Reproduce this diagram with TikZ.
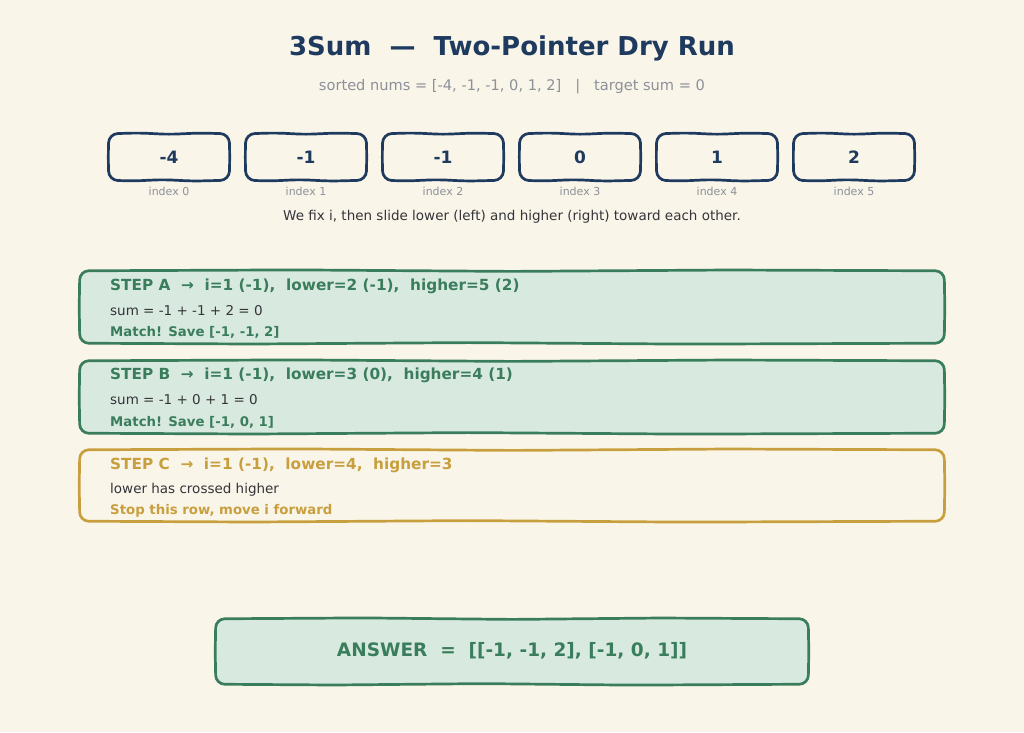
\documentclass[tikz,border=0pt]{standalone}
\usepackage{fontspec}
\setmainfont{DejaVu Sans}
\usetikzlibrary{calc}
\definecolor{bg}{HTML}{FAF5E9}
\definecolor{navy}{HTML}{1E3A5F}
\definecolor{grn}{HTML}{3A7D5C}
\definecolor{grnfill}{HTML}{D8EADF}
\definecolor{gold}{HTML}{C89F3E}
\definecolor{greytx}{HTML}{8C9099}
\definecolor{darktx}{HTML}{34343A}
\tikzset{
  sk/.style={line width=2.7pt, line join=round, rounded corners=9pt},
  slot/.style={minimum width=120pt, minimum height=46pt, inner sep=0pt},
  numtxt/.style={text=navy, font=\bfseries\fontsize{17}{20}\selectfont},
  idx/.style={text=greytx, font=\fontsize{11}{13}\selectfont},
  stepslot/.style={minimum width=864pt, minimum height=72pt, inner sep=0pt},
  head/.style={anchor=west, inner sep=0pt, font=\bfseries\fontsize{15.3}{18}\selectfont},
  body/.style={anchor=west, inner sep=0pt, text=darktx, font=\fontsize{13.5}{16}\selectfont},
  note/.style={anchor=west, inner sep=0pt, font=\bfseries\fontsize{13.3}{16}\selectfont},
}
% hand-drawn looking box round a node
\newcommand{\skbox}[2]{%
\draw[sk,#2] ($(#1.north west)!0.5!(#1.south west)+(-0.6,0)$)
 -- (#1.north west)
 -- ($(#1.north west)!0.25!(#1.north east)+(0,-0.9)$)
 -- ($(#1.north west)!0.5!(#1.north east)+(0,0.6)$)
 -- ($(#1.north west)!0.75!(#1.north east)+(0,-0.8)$)
 -- (#1.north east)
 -- ($(#1.north east)!0.5!(#1.south east)+(0.6,0)$)
 -- (#1.south east)
 -- ($(#1.south west)!0.7!(#1.south east)+(0,0.9)$)
 -- ($(#1.south west)!0.45!(#1.south east)+(0,-0.6)$)
 -- ($(#1.south west)!0.2!(#1.south east)+(0,0.8)$)
 -- (#1.south west)
 -- cycle;}
\begin{document}
\begin{tikzpicture}[x=1pt,y=-1pt]
\fill[bg] (0,0) rectangle (1024,732);
\useasboundingbox (0,0) rectangle (1024,732);

\node[text=navy, font=\bfseries\fontsize{26}{30}\selectfont] (title) at (512,48.5) {3Sum\ \ —\ \ Two-Pointer Dry Run};
\node[text=greytx, font=\fontsize{14.6}{17}\selectfont] (sub) at (512,87) {sorted nums = [-4, -1, -1, 0, 1, 2]\ \ \ |\ \ \ target sum = 0};

\foreach \k/\v [evaluate=\k as \xx using 169+137*\k] in {0/-4,1/-1,2/-1,3/0,4/1,5/2}{
  \node[slot] (n\k) at (\xx,157) {};
  \skbox{n\k}{draw=navy}
  \node[numtxt] (t\k) at (n\k.center) {\v};
  \node[idx] (i\k) at (\xx,191.5) {index \k};
}

\node[text=darktx, font=\fontsize{13.5}{16}\selectfont] (cap) at (512,217) {We fix i, then slide lower (left) and higher (right) toward each other.};

\node[stepslot] (sa) at (512,307) {};
\skbox{sa}{draw=grn, fill=grnfill}
\node[head, text=grn] (sah) at (110,286) {STEP A\ \ →\ \ i=1 (-1),\ \ lower=2 (-1),\ \ higher=5 (2)};
\node[body] (sab) at (110,311) {sum = -1 + -1 + 2 = 0};
\node[note, text=grn] (san) at (110,332) {Match! Save [-1, -1, 2]};

\node[stepslot] (sb) at (512,397) {};
\skbox{sb}{draw=grn, fill=grnfill}
\node[head, text=grn] (sbh) at (110,375) {STEP B\ \ →\ \ i=1 (-1),\ \ lower=3 (0),\ \ higher=4 (1)};
\node[body] (sbb) at (110,400) {sum = -1 + 0 + 1 = 0};
\node[note, text=grn] (sbn) at (110,422) {Match! Save [-1, 0, 1]};

\node[stepslot, minimum height=71pt] (sc) at (512,485.5) {};
\skbox{sc}{draw=gold}
\node[head, text=gold] (sch) at (110,465) {STEP C\ \ →\ \ i=1 (-1),\ \ lower=4,\ \ higher=3};
\node[body] (scb) at (110,490) {lower has crossed higher};
\node[note, text=gold] (scn) at (110,511) {Stop this row, move i forward};

\node[minimum width=592pt, minimum height=65pt, inner sep=0pt] (ans) at (512,651.5) {};
\skbox{ans}{draw=grn, fill=grnfill}
\node[text=grn, font=\bfseries\fontsize{18.5}{22}\selectfont] (anst) at (512,650.5) {ANSWER\ \ =\ \ [[-1, -1, 2], [-1, 0, 1]]};
\end{tikzpicture}
\end{document}
